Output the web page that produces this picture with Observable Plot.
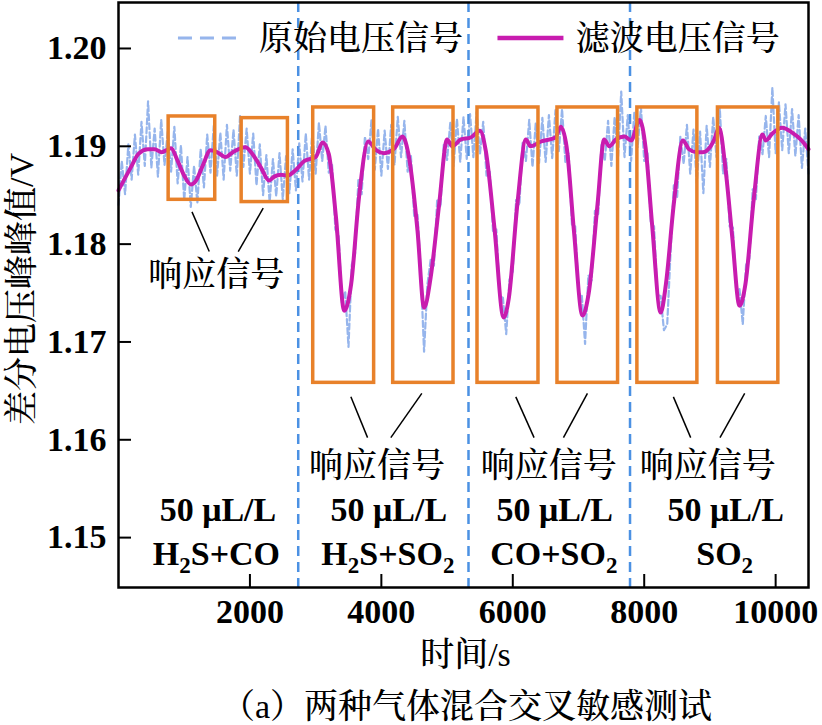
<!DOCTYPE html>
<html lang="zh-CN"><head><meta charset="utf-8">
<script src="https://cdn.jsdelivr.net/npm/d3@7"></script>
<script src="https://cdn.jsdelivr.net/npm/@observablehq/plot@0.6"></script>
<style>body{margin:0;background:#fff}</style>
</head><body><div id="chart"></div>
<script>
// filtered signal (time s, voltage V)
const filtT = [0,200,300,450,550,650,800,900,1000,1100,1180,1280,1400,1500,1630,1740,1930,2040,2170,2290,2370,2470,2570,2700,2830,3000,3105,3200,3310,3435,3540,3660,3800,3920,4040,4200,4320,4420,4550,4650,4750,4880,5000,5080,5210,5360,5500,5590,5720,5860,5940,6070,6200,6270,6430,6650,6730,6820,6930,7060,7160,7290,7390,7470,7570,7700,7800,7930,8020,8120,8250,8330,8450,8590,8680,8800,8890,9010,9060,9140,9240,9340,9450,9540,9670,9800,9850,9950,10100,10250,10380,10500];
const filtV = [1.1855,1.1880,1.1892,1.1897,1.1897,1.1894,1.1898,1.1885,1.1870,1.1861,1.1865,1.1880,1.1896,1.1894,1.1889,1.1894,1.1899,1.1892,1.1878,1.1865,1.1869,1.1871,1.1870,1.1876,1.1885,1.1889,1.1904,1.1892,1.1827,1.1732,1.1759,1.1848,1.1905,1.1896,1.1893,1.1898,1.1910,1.1889,1.1814,1.1735,1.1766,1.1841,1.1907,1.1900,1.1907,1.1909,1.1916,1.1895,1.1817,1.1725,1.1745,1.1841,1.1907,1.1900,1.1905,1.1909,1.1920,1.1899,1.1814,1.1727,1.1752,1.1841,1.1907,1.1900,1.1907,1.1910,1.1906,1.1927,1.1899,1.1820,1.1730,1.1759,1.1841,1.1906,1.1897,1.1894,1.1894,1.1900,1.1906,1.1919,1.1875,1.1807,1.1737,1.1759,1.1848,1.1912,1.1906,1.1913,1.1919,1.1914,1.1907,1.1897];

// raw signal, sampled every 50 s from 0 s
const rawStep = 50;
const rawV = [1.1840,1.1885,1.1851,1.1902,1.1866,1.1912,1.1871,1.1925,1.1880,1.1946,
1.1878,1.1918,1.1869,1.1927,1.1881,1.1915,1.1874,1.1920,1.1862,1.1901,
1.1845,1.1889,1.1838,1.1880,1.1842,1.1897,1.1858,1.1912,1.1873,1.1921,
1.1870,1.1914,1.1866,1.1922,1.1875,1.1917,1.1870,1.1931,1.1879,1.1918,
1.1872,1.1913,1.1860,1.1902,1.1850,1.1891,1.1843,1.1887,1.1849,1.1893,
1.1846,1.1890,1.1852,1.1897,1.1855,1.1903,1.1864,1.1913,1.1866,1.1915,
1.1872,1.1924,1.1885,1.1921,1.1873,1.1881,1.1815,1.1808,1.1740,1.1752,
1.1695,1.1779,1.1790,1.1866,1.1851,1.1910,1.1887,1.1927,1.1876,1.1918,
1.1870,1.1916,1.1877,1.1922,1.1881,1.1930,1.1889,1.1926,1.1874,1.1890,
1.1828,1.1830,1.1772,1.1690,1.1758,1.1784,1.1778,1.1846,1.1838,1.1902,
1.1886,1.1925,1.1880,1.1928,1.1884,1.1930,1.1887,1.1933,1.1889,1.1935,
1.1892,1.1925,1.1870,1.1874,1.1812,1.1815,1.1748,1.1745,1.1708,1.1764,
1.1772,1.1845,1.1840,1.1905,1.1885,1.1927,1.1879,1.1924,1.1883,1.1929,
1.1884,1.1932,1.1888,1.1937,1.1895,1.1938,1.1884,1.1893,1.1820,1.1818,
1.1750,1.1748,1.1698,1.1768,1.1763,1.1834,1.1830,1.1903,1.1885,1.1926,
1.1880,1.1930,1.1886,1.1956,1.1889,1.1932,1.1885,1.1935,1.1899,1.1940,
1.1885,1.1893,1.1822,1.1818,1.1748,1.1747,1.1712,1.1718,1.1790,1.1860,
1.1847,1.1910,1.1882,1.1922,1.1872,1.1917,1.1862,1.1915,1.1852,1.1921,
1.1879,1.1930,1.1889,1.1939,1.1872,1.1887,1.1818,1.1817,1.1752,1.1754,
1.1718,1.1779,1.1785,1.1856,1.1846,1.1910,1.1892,1.1931,1.1889,1.1960,
1.1893,1.1945,1.1896,1.1943,1.1893,1.1938,1.1890,1.1932,1.1878,1.1918,
1.1872];

const separators = [2735, 5326, 7784];
const boxX1 = [763, 1874, 2963, 4180, 5463, 6680, 7896, 9122];
const boxX2 = [1472, 2578, 3890, 5098, 6391, 7602, 8809, 10041];
const boxY1 = [1.18453, 1.18430, 1.16582, 1.16582, 1.16582, 1.16582, 1.16582, 1.16582];
const boxY2 = [1.19305, 1.19288, 1.19397, 1.19397, 1.19397, 1.19397, 1.19397, 1.19397];

const leadX1 = [1118, 2202, 3536, 4616, 6046, 7136, 8444, 9529];
const leadY1 = [1.18330, 1.18368, 1.16439, 1.16475, 1.16439, 1.16475, 1.16439, 1.16475];
const leadX2 = [1381, 1822, 3790, 4144, 6324, 6771, 8707, 9153];
const leadY2 = [1.17924, 1.17924, 1.16022, 1.16022, 1.16022, 1.16022, 1.16022, 1.16022];

const respLabel = "响应信号";
const respX = [1486, 3932, 6547, 8966];
const respY = [1.17688, 1.15733, 1.15733, 1.15733];

const concLabel = "50 μL/L";
const concX = [1513, 4114, 6638, 9240];
const concY = 1.15283;
const gasLabels = ["H2S+CO", "H2S+SO2", "CO+SO2", "SO2"];
const gasX = [1490, 4099, 6624, 9224];
const gasY = 1.14827;

const legendLabels = ["原始电压信号", "滤波电压信号"];
const legendTextX = [2137, 6958];
const legendTextY = 1.20094;
const legendX1 = [905, 5767];
const legendX2 = [1863, 6771];
const legendY = 1.20106;

const xTicks = [2000, 4000, 6000, 8000, 10000];
const yTicks = [1.15, 1.16, 1.17, 1.18, 1.19, 1.20];
const xLabel = "时间/s";
const yLabel = "差分电压峰峰值/V";
const caption = "（a）两种气体混合交叉敏感测试";

const rawData = rawV.map((v, i) => ({t: i * rawStep, v}));
const filtData = filtT.map((t, i) => ({t, v: filtV[i]}));
const boxes = boxX1.map((x, i) => ({x1: x, x2: boxX2[i], y1: boxY1[i], y2: boxY2[i]}));
const leaders = leadX1.map((x, i) => ({x1: x, x2: leadX2[i], y1: leadY1[i], y2: leadY2[i]}));

const SERIF = "Liberation Serif";
const MIXED = "Liberation Serif, Noto Serif CJK SC";
const RAW = "#6a96e4", FILT = "#c81caf", ORANGE = "#e8812a", SEP = "#4b91e3";

const chart = Plot.plot({
  width: 822, height: 725,
  marginTop: 2, marginBottom: 138, marginLeft: 118, marginRight: 14,
  style: {fontSize: "34px", background: "#fff", color: "#000"},
  x: {domain: [0, 10500]},
  y: {domain: [1.1449, 1.2047]},
  marks: [
    Plot.ruleX(separators, {stroke: SEP, strokeWidth: 2.5, strokeDasharray: "10,6"}),
    Plot.line(rawData, {x: "t", y: "v", stroke: RAW, strokeWidth: 2.2, strokeOpacity: 0.7, strokeDasharray: "6,3"}),
    Plot.line(filtData, {x: "t", y: "v", stroke: FILT, strokeWidth: 4, curve: "monotone-x"}),
    Plot.rect(boxes, {x1: "x1", x2: "x2", y1: "y1", y2: "y2", fill: "none", stroke: ORANGE, strokeWidth: 3.5}),
    Plot.link(leaders, {x1: "x1", y1: "y1", x2: "x2", y2: "y2", stroke: "#000", strokeWidth: 1.5}),
    Plot.text(respX, {x: d => d, y: (d, i) => respY[i], text: () => respLabel, fontFamily: MIXED, fontSize: 34, fill: "#000"}),
    Plot.text(concX, {x: d => d, y: () => concY, text: () => concLabel, fontFamily: SERIF, fontSize: 34, fontWeight: "bold", fill: "#000"}),
    Plot.text(gasX, {x: d => d, y: () => gasY, text: (d, i) => gasLabels[i], fontFamily: SERIF, fontSize: 34, fontWeight: "bold", fill: "#000"}),
    // legend
    Plot.link(legendX1.slice(0, 1), {x1: d => d, x2: (d, i) => legendX2[i], y1: () => legendY, y2: () => legendY, stroke: RAW, strokeWidth: 3, strokeOpacity: 0.7, strokeDasharray: "14,8"}),
    Plot.link(legendX1.slice(1), {x1: d => d, x2: () => legendX2[1], y1: () => legendY, y2: () => legendY, stroke: FILT, strokeWidth: 4.5}),
    Plot.text(legendTextX, {x: d => d, y: () => legendTextY, text: (d, i) => legendLabels[i], textAnchor: "start", fontFamily: MIXED, fontSize: 34, fill: "#000"}),
    Plot.frame({stroke: "#000", strokeWidth: 2.5}),
    Plot.axisX(xTicks, {anchor: "bottom", tickSize: -13, tickPadding: 24, strokeWidth: 2, tickFormat: "d", fontFamily: SERIF, fontSize: 34, fontWeight: "bold", label: null}),
    Plot.axisY(yTicks, {anchor: "left", tickSize: -13, tickPadding: 25, strokeWidth: 2, tickFormat: ".2f", fontFamily: SERIF, fontSize: 34, fontWeight: "bold", label: null}),
    Plot.text([xLabel], {frameAnchor: "bottom", lineAnchor: "middle", textAnchor: "middle", dy: 68, dx: 2, text: d => d, fontFamily: MIXED, fontWeight: 500, fontSize: 34}),
    Plot.text([caption], {frameAnchor: "bottom", lineAnchor: "middle", textAnchor: "middle", dy: 120, dx: 3, text: d => d, fontFamily: MIXED, fontWeight: 500, fontSize: 34}),
    Plot.text([yLabel], {frameAnchor: "left", lineAnchor: "middle", textAnchor: "middle", dx: -96, dy: -6, rotate: -90, text: d => d, fontFamily: MIXED, fontWeight: 500, fontSize: 34})
  ]
});

const sel = d3.select(chart);
sel.attr("lang", "zh-CN");
// pure Chinese labels: set the serif CJK face directly
sel.selectAll("text").each(function () {
  const t = this.textContent;
  if (t === respLabel || legendLabels.includes(t)) {
    d3.select(this).style("font-family", "'Noto Serif CJK SC'").style("font-weight", "500");
  }
});

// render "2" in gas formulas as subscripts
sel.selectAll("text").each(function () {
  const t = this.textContent;
  if (!gasLabels.includes(t)) return;
  const parts = t.split("2");
  this.textContent = "";
  const s = d3.select(this);
  parts.forEach((p, i) => {
    if (i === 0) { s.append("tspan").text(p); return; }
    s.append("tspan").attr("dy", 8).attr("font-size", 23).text("2");
    s.append("tspan").attr("dy", -8).text(p);
  });
});

document.getElementById("chart").append(chart);
</script>
</body></html>
